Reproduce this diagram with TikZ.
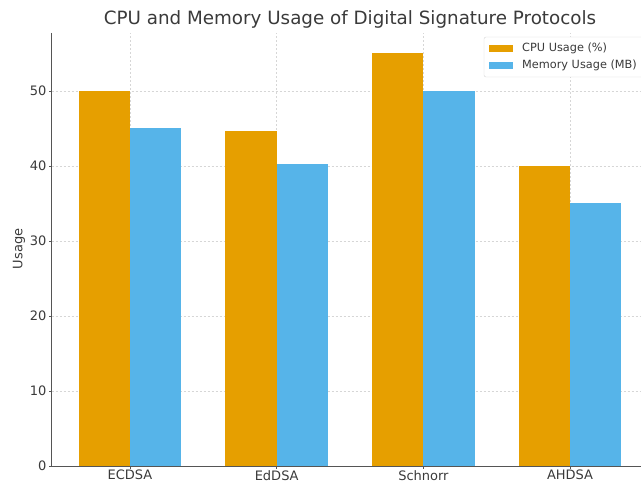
\documentclass[tikz,border=0pt]{standalone}
\usepackage{fontspec}
\setmainfont{DejaVu Sans}

\definecolor{cpuorange}{HTML}{E69F00}
\definecolor{memblue}{HTML}{56B4E9}
\definecolor{axisgray}{HTML}{555555}
\definecolor{textgray}{HTML}{3A3A3A}
\definecolor{gridgray}{HTML}{D6D6D6}

\begin{document}
\begin{tikzpicture}[x=1pt,y=1pt,
    cpubar/.style={fill=cpuorange},
    membar/.style={fill=memblue},
    gridline/.style={draw=gridgray,line width=0.6pt,dash pattern=on 2pt off 2pt},
    spine/.style={draw=axisgray,line width=0.9pt},
    ticklabel/.style={text=textgray,font=\fontsize{13}{15}\selectfont,inner sep=0pt},
    legendtext/.style={text=textgray,font=\fontsize{11.3}{13}\selectfont,inner sep=0pt,anchor=west}]

\clip (0,0) rectangle (641,483);

%% title
\node[text=textgray,font=\fontsize{18.3}{20}\selectfont] (title) at (350,464) {CPU and Memory Usage of Digital Signature Protocols};

%% y label
\node[ticklabel,rotate=90] (ylabel) at (19,234) {Usage};

\begin{scope}[shift={(130,17)},x=146.7pt,y=7.5pt]
%% grid
\foreach \v in {10,20,...,50}
  \draw[gridline] (-0.535,\v) -- (3.535,\v);
\foreach \c in {0,1,2,3}
  \draw[gridline] (\c,0) -- (\c,57.75);

%% bars
\fill[cpubar] (-0.35,0) rectangle (0,50);      %% ECDSA cpu
\fill[membar] (0,0) rectangle (0.35,45);       %% ECDSA memory
\fill[cpubar] (0.65,0) rectangle (1,44.7);     %% EdDSA cpu
\fill[membar] (1,0) rectangle (1.35,40.3);     %% EdDSA memory
\fill[cpubar] (1.65,0) rectangle (2,55);       %% Schnorr cpu
\fill[membar] (2,0) rectangle (2.35,50);       %% Schnorr memory
\fill[cpubar] (2.65,0) rectangle (3,40);       %% AHDSA cpu
\fill[membar] (3,0) rectangle (3.35,35);       %% AHDSA memory

%% spines
\draw[spine] (-0.535,57.75) -- (-0.535,0) -- (3.535,0);

%% y ticks
\foreach \v in {0,10,...,50}{
  \draw[spine] (-0.535,\v) -- ++(-3pt,0);
  \node[ticklabel,anchor=east] (ytick\v) at ([xshift=-5pt]-0.535,\v) {\v};
}

%% x ticks
\foreach \c/\name in {0/ECDSA,1/EdDSA,2/Schnorr,3/AHDSA}{
  \draw[spine] (\c,0) -- ++(0,-3pt);
  \node[ticklabel,anchor=north] (xtick\c) at ([yshift=-4pt]\c,0) {\name};
}
\end{scope}

%% legend
\draw[draw=gridgray,fill=white,rounded corners=2pt] (484,406) rectangle (660,446);
\fill[cpubar] (489,431) rectangle (513,438);
\node[legendtext] (cpulegend) at (522,434.5) {CPU Usage (\%)};
\fill[membar] (489,414) rectangle (513,421);
\node[legendtext] (memlegend) at (522,417.5) {Memory Usage (MB)};

\end{tikzpicture}
\end{document}
